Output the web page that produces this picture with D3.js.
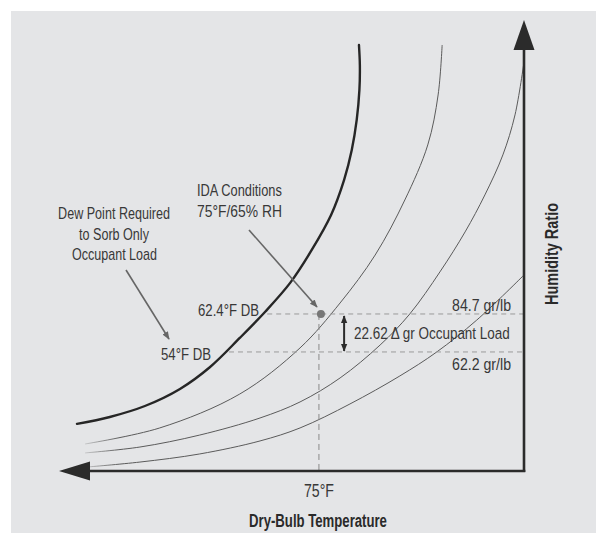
<!DOCTYPE html>
<html><head><meta charset="utf-8">
<script src="https://cdn.jsdelivr.net/npm/d3@7"></script>
<style>html,body{margin:0;padding:0;background:#fff;} svg{display:block}</style>
</head><body><svg id="c" width="596" height="533"></svg>
<script>
// ---------- data (dry-bulb °F, humidity ratio gr/lb; schematic chart) ----------
const tempDomain = [17.2, 120.6];
const humidityDomain = [-8.3, 258.8];

const saturationCurve = [
  [21.2,19.6],[28.5,23.7],[36.3,30.2],[44.1,40.3],[50.8,53.3],[57.4,70.5],
  [63.0,85.9],[68.6,103.1],[73.4,122.6],[77.7,143.3],[80.6,164.1],[82.3,181.8],
  [83.4,199.6],[84.0,217.4],[84.1,232.2],[83.9,244.0]
];
const rhCurveHigh = [
  [23.0,7.7],[39.6,17.2],[57.4,37.3],[70.8,64.6],[79.7,91.2],[87.5,119.6],
  [94.1,152.2],[99.2,184.8],[101.5,214.4],[102.4,244.0]
];
const rhCurveMid = [
  [23.0,2.4],[35.2,5.9],[48.5,13.0],[61.9,23.1],[70.8,32.6],[79.7,46.8],
  [88.6,66.3],[95.2,84.7],[101.9,109.6],[107.5,133.3],[111.9,155.2],
  [115.9,178.9],[118.6,202.6],[120.6,233.9]
];
const rhCurveLow = [
  [23.6,-5.9],[35.2,-3.0],[48.5,1.8],[61.9,9.5],[70.8,17.2],[81.9,31.4],
  [93.0,48.0],[101.2,62.2],[110.1,81.1],[120.6,107.8]
];
const idaPoint = [75, 84.7];
const roomW = 84.7;      // gr/lb at IDA conditions
const supplyW = 62.2;    // gr/lb at 54°F dew point
const roomDewT = 63.5;   // where upper guide starts
const supplyDewT = 55.0; // where lower guide starts
const loadArrowT = 80.6;

const dewText = ["Dew Point Required", "to Sorb Only", "Occupant Load"];
const idaText = ["IDA Conditions", "75°F/65% RH"];
const dbHighText = "62.4°F DB";
const dbLowText = "54°F DB";
const wHighText = "84.7 gr/lb";
const wLowText = "62.2 gr/lb";
const loadText = "22.62 \u0394 gr Occupant Load";
const tickText = "75°F";
const xTitle = "Dry-Bulb Temperature";
const yTitle = "Humidity Ratio";

// ---------- drawing ----------
const svg = d3.select("#c");
const x = d3.scaleLinear().domain(tempDomain).range([59, 524]);
const y = d3.scaleLinear().domain(humidityDomain).range([471, 20]);

svg.append("rect").attr("x", 11).attr("y", 11).attr("width", 585).attr("height", 522).attr("fill", "#e4e5e7");

const defs = svg.append("defs");
const grad = defs.append("linearGradient").attr("id", "fade").attr("gradientUnits", "userSpaceOnUse")
  .attr("x1", 82).attr("x2", 120).attr("y1", 0).attr("y2", 0);
grad.append("stop").attr("offset", 0).attr("stop-color", "#5a5a5a").attr("stop-opacity", 0.15);
grad.append("stop").attr("offset", 1).attr("stop-color", "#5a5a5a").attr("stop-opacity", 1);

function arrowMarker(id, color, size) {
  defs.append("marker").attr("id", id).attr("viewBox", "0 0 10 10").attr("refX", 9).attr("refY", 5)
    .attr("markerWidth", size).attr("markerHeight", size).attr("markerUnits", "userSpaceOnUse")
    .attr("orient", "auto-start-reverse")
    .append("path").attr("d", "M0,1 L10,5 L0,9 Z").attr("fill", color);
}
arrowMarker("ag", "#666", 8);
arrowMarker("ad", "#2b2b2b", 8);

const line = d3.line().x(d => x(d[0])).y(d => y(d[1])).curve(d3.curveCatmullRom.alpha(0.5));

[rhCurveHigh, rhCurveMid, rhCurveLow].forEach(c => {
  svg.append("path").attr("d", line(c)).attr("fill", "none").attr("stroke", "url(#fade)").attr("stroke-width", 1);
});
svg.append("path").attr("d", line(saturationCurve)).attr("fill", "none")
  .attr("stroke", "#262626").attr("stroke-width", 2.4).attr("stroke-linecap", "round");

// guide lines
const gx = x.range()[1];
svg.append("line").attr("x1", x(roomDewT)).attr("x2", gx).attr("y1", y(roomW)).attr("y2", y(roomW))
  .attr("stroke", "#9a9a9a").attr("stroke-width", 1).attr("stroke-dasharray", "5,4");
svg.append("line").attr("x1", x(supplyDewT)).attr("x2", gx).attr("y1", y(supplyW)).attr("y2", y(supplyW))
  .attr("stroke", "#9a9a9a").attr("stroke-width", 1).attr("stroke-dasharray", "5,4");
svg.append("line").attr("x1", x(idaPoint[0])).attr("x2", x(idaPoint[0])).attr("y1", y(idaPoint[1])).attr("y2", y.range()[0])
  .attr("stroke", "#8a8a8a").attr("stroke-width", 1).attr("stroke-dasharray", "6,4");

// load arrow
svg.append("line").attr("x1", x(loadArrowT)).attr("x2", x(loadArrowT)).attr("y1", y(roomW) + 2).attr("y2", y(supplyW) - 1)
  .attr("stroke", "#2b2b2b").attr("stroke-width", 2)
  .attr("marker-start", "url(#ad)").attr("marker-end", "url(#ad)");

// IDA point
svg.append("circle").attr("cx", x(idaPoint[0]) + 2).attr("cy", y(idaPoint[1])).attr("r", 4).attr("fill", "#777");

// pointer arrows
svg.append("line").attr("x1", 249).attr("y1", 230).attr("x2", 317).attr("y2", 307)
  .attr("stroke", "#666").attr("stroke-width", 1.6).attr("marker-end", "url(#ag)");
svg.append("line").attr("x1", 126).attr("y1", 270).attr("x2", 169).attr("y2", 339)
  .attr("stroke", "#666").attr("stroke-width", 1.6).attr("marker-end", "url(#ag)");

// axes
const axisColor = "#2b2b2b";
svg.append("line").attr("x1", x.range()[1]).attr("x2", x.range()[1]).attr("y1", y.range()[0] + 1).attr("y2", 48)
  .attr("stroke", axisColor).attr("stroke-width", 2.6);
svg.append("path").attr("d", `M${x.range()[1]},${y.range()[1]} L${x.range()[1] - 10.5},50 L${x.range()[1] + 10.5},50 Z`).attr("fill", axisColor);
svg.append("line").attr("x1", x.range()[1] + 1.3).attr("x2", 88).attr("y1", y.range()[0]).attr("y2", y.range()[0])
  .attr("stroke", axisColor).attr("stroke-width", 2.6);
svg.append("path").attr("d", `M${x.range()[0]},${y.range()[0]} L90,${y.range()[0] - 9.5} L90,${y.range()[0] + 9.5} Z`).attr("fill", axisColor);

// text: horizontally condensed by a scale transform so the drawn width matches
const FONT = "'Liberation Sans', Arial, sans-serif";
function label(txt, px, py, w, anchor, size, opts = {}) {
  const t = svg.append("text").attr("x", 0).attr("y", 0).attr("text-anchor", anchor)
    .attr("font-family", FONT).attr("font-size", size)
    .attr("font-weight", opts.weight || 400).attr("fill", opts.color || "#383838")
    .text(txt);
  const natural = t.node().getComputedTextLength();
  const sx = natural > 0 ? w / natural : 1;
  const rot = opts.rotate ? ` rotate(${opts.rotate})` : "";
  t.attr("transform", `translate(${px},${py})${rot} scale(${sx},1)`);
  return t;
}
label(dewText[0], 114, 218.5, 112, "middle", 17);
label(dewText[1], 114, 239.5, 70, "middle", 17);
label(dewText[2], 114.5, 260, 85, "middle", 17);
label(idaText[0], 197, 196, 85, "start", 16.5);
label(idaText[1], 197, 216.5, 85, "start", 16.5);
label(dbHighText, 198, 316, 61, "start", 17);
label(dbLowText, 161, 360, 50, "start", 17);
label(wHighText, 511, 311, 59, "end", 17);
label(wLowText, 511, 370, 59, "end", 17);
label(loadText, 354, 339, 156, "start", 17);
label(tickText, x(idaPoint[0]), 497, 30, "middle", 18);
label(xTitle, 318, 527, 138, "middle", 19, {weight: 700, color: "#2a2a2a"});
label(yTitle, 558, 254, 102, "middle", 19, {weight: 700, color: "#2a2a2a", rotate: -90});
</script>
</body></html>
